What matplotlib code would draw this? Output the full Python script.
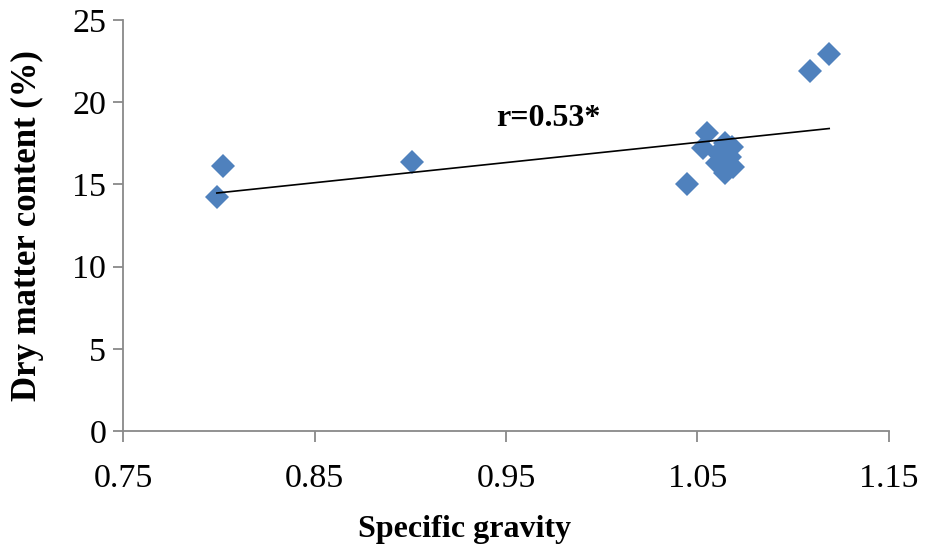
import numpy as np
import matplotlib
matplotlib.use('Agg')
import matplotlib.pyplot as plt

plt.rcParams['font.family'] = ['Liberation Serif', 'DejaVu Serif']

# specific gravity vs dry matter content (%)
sg = [0.799, 0.802, 0.901, 1.0445, 1.0548, 1.0530, 1.0644, 1.0678, 1.0609,
      1.0671, 1.0600, 1.0687, 1.0644, 1.109, 1.1188]
dm = [14.21, 16.12, 16.38, 15.02, 18.11, 17.20, 17.50, 17.30, 16.89,
      16.68, 16.28, 16.08, 15.68, 21.92, 22.93]

x_ticks = [0.75, 0.85, 0.95, 1.05, 1.15]
y_ticks = [0, 5, 10, 15, 20, 25]

fig = plt.figure(figsize=(9.25, 5.57), dpi=100)
ax = fig.add_axes([0.133, 0.226, 0.828, 0.738])

ax.plot(sg, dm, 'D', color='#4F81BD', markersize=12, markeredgewidth=0, zorder=2)

# linear trend line over the data range
k, b = np.polyfit(sg, dm, 1)
xl = np.array([min(sg), max(sg)])
ax.plot(xl, k * xl + b, color='black', linewidth=1.2, zorder=3)

ax.text(0.972, 19.0, 'r=0.53*', fontsize=23, fontweight='bold', ha='center', va='center')

ax.set_xlim(0.75, 1.15)
ax.set_ylim(0, 25)
ax.set_xticks(x_ticks)
ax.set_xticklabels(['%.2f' % v for v in x_ticks])
ax.set_yticks(y_ticks)

for s in ['top', 'right']:
    ax.spines[s].set_visible(False)
for s in ['left', 'bottom']:
    ax.spines[s].set_color('#898989')
    ax.spines[s].set_linewidth(1.3)

ax.tick_params(axis='both', direction='out', length=7, width=1.3, color='#898989',
               labelsize=24.5, pad=5)
ax.tick_params(axis='x', length=8, pad=15)

ax.set_xlabel('Specific gravity', fontsize=23, fontweight='bold', va='center')
ax.xaxis.set_label_coords(0.446, -0.24)
ax.set_ylabel('Dry matter content (%)', fontsize=25, fontweight='bold', va='center')
ax.yaxis.set_label_coords(-0.125, 0.5)

fig.savefig('out.png', dpi=100)
